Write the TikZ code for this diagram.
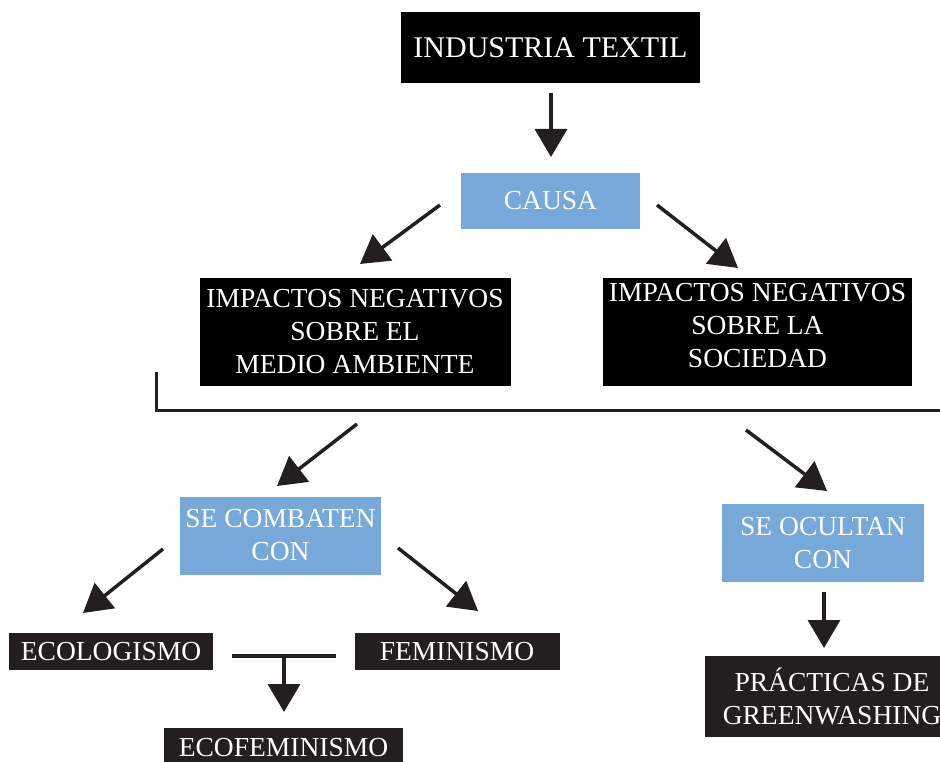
\documentclass[tikz,border=0pt]{standalone}
\usepackage{fontspec}
\setmainfont{Liberation Serif}
\usetikzlibrary{arrows.meta}
\definecolor{boxblue}{HTML}{76A9DA}
\definecolor{darkbox}{HTML}{231F20}
\begin{document}
\begin{tikzpicture}[x=1pt,y=-1pt,
  box/.style={fill=black,text=white,inner sep=0pt,align=center,
    font=\fontsize{27.5}{33}\selectfont},
  bigbox/.style={box,font=\fontsize{30}{36}\selectfont},
  bluebox/.style={box,fill=boxblue},
  brownbox/.style={box,fill=darkbox},
  conn/.style={draw=darkbox,line width=3.5pt},
  arr/.style={conn,-{Triangle[length=28pt,width=32pt]}},
  ]
\useasboundingbox (0,0) rectangle (940,762);
\fill[white] (0,0) rectangle (940,762);

\node[bigbox,minimum width=299pt,minimum height=71pt] (ind) at (550.5,47.5) {INDUSTRIA TEXTIL};
\node[bigbox,bluebox,minimum width=179pt,minimum height=56pt] (causa) at (550.5,201) {CAUSA};
\node[box,minimum width=311pt,minimum height=108pt] (impL) at (355,332) {IMPACTOS NEGATIVOS\\SOBRE EL\\MEDIO AMBIENTE};
\node[box,minimum width=309pt,minimum height=108pt] (impR) at (757.5,332) {};
\node[box,fill=none] (impRt) at (757.5,326) {IMPACTOS NEGATIVOS\\SOBRE LA\\SOCIEDAD};
\node[bluebox,minimum width=201pt,minimum height=78pt] (comb) at (280.5,535.5) {SE COMBATEN\\CON};
\node[bluebox,minimum width=202pt,minimum height=78pt] (ocul) at (823,543) {SE OCULTAN\\CON};
\node[brownbox,minimum width=204pt,minimum height=37pt] (eco) at (111,651.5) {ECOLOGISMO};
\node[brownbox,minimum width=205pt,minimum height=37pt] (fem) at (457,651.5) {FEMINISMO};
\node[brownbox,minimum width=239pt,minimum height=40pt] (ecofem) at (283.5,748) {ECOFEMINISMO};
\node[brownbox,minimum width=254pt,minimum height=81pt] (prac) at (832,696.5) {PRÁCTICAS DE\\GREENWASHING};

% connector end points
\coordinate (a1s) at (551,93);   \coordinate (a1e) at (551,157);
\coordinate (a2s) at (440,205);  \coordinate (a2e) at (360,264);
\coordinate (a3s) at (657,205);  \coordinate (a3e) at (738,268);
\coordinate (brT) at (156,372);  \coordinate (brC) at (156,410);  \coordinate (brR) at (942,410);
\coordinate (a4s) at (357,424);  \coordinate (a4e) at (277,486);
\coordinate (a5s) at (746,430);  \coordinate (a5e) at (827,491);
\coordinate (a6s) at (163,549);  \coordinate (a6e) at (83,613);
\coordinate (a7s) at (398,548);  \coordinate (a7e) at (478,611);
\coordinate (tL) at (232,656);   \coordinate (tR) at (336,656);
\coordinate (tM) at (284,656);   \coordinate (tE) at (284,712);
\coordinate (a8s) at (824,592);  \coordinate (a8e) at (824,648);

\draw[arr] (a1s) -- (a1e);
\draw[arr] (a2s) -- (a2e);
\draw[arr] (a3s) -- (a3e);
\draw[conn,line width=3pt] (brT) -- (brC) -- (brR);
\draw[arr] (a4s) -- (a4e);
\draw[arr] (a5s) -- (a5e);
\draw[arr] (a6s) -- (a6e);
\draw[arr] (a7s) -- (a7e);
\draw[conn] (tL) -- (tR);
\draw[arr] (tM) -- (tE);
\draw[arr] (a8s) -- (a8e);
\end{tikzpicture}
\end{document}
